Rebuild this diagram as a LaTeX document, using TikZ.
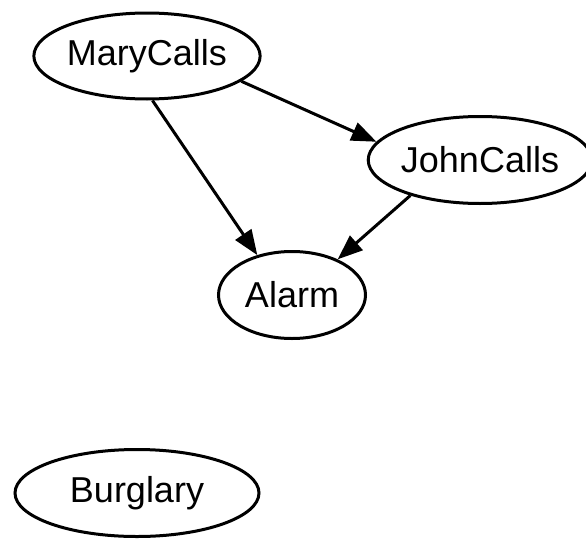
\documentclass[tikz,border=0pt]{standalone}
\usepackage{fontspec}
\setmainfont{Liberation Sans}
\usetikzlibrary{shapes.geometric,arrows.meta}
\begin{document}
\begin{tikzpicture}[x=1pt,y=-1pt,
    var/.style={ellipse,draw,line width=3pt,inner sep=0pt,font=\fontsize{36}{40}\selectfont},
    edge/.style={line width=3pt,-{Triangle[length=25pt,width=19pt]}}]

    \useasboundingbox (0,0) rectangle (586,538);

    %draw nodes:
    \node[var,minimum width=221pt,minimum height=86pt] (mary) at (147,56) {MaryCalls};
    \node[var,minimum width=200pt,minimum height=87pt] (john) at (480,160) {JohnCalls};
    \node[var,minimum width=147pt,minimum height=87pt] (alarm) at (292,295) {Alarm};
    \node[var,minimum width=244pt,minimum height=87pt] (burglary) at (137,493) {Burglary};

    %draw edges:
    \draw[edge] (mary.-15) -- (john.170);
    \draw[edge] (mary.-83) -- (alarm.131);
    \draw[edge] (john.-153) -- (alarm.38);

\end{tikzpicture}
\end{document}
